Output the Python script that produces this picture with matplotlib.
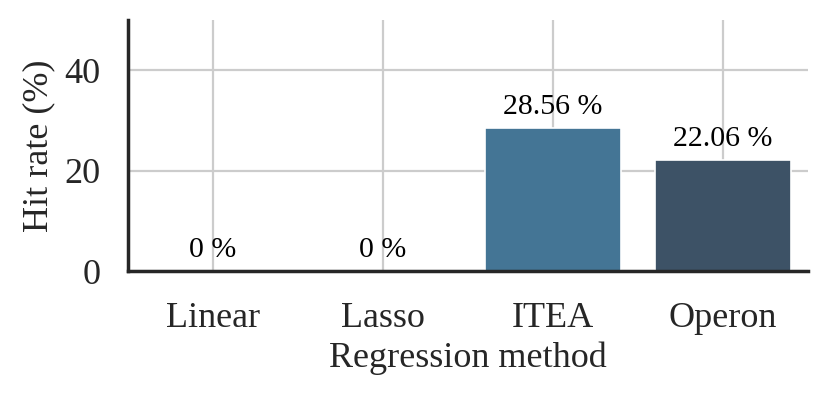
import matplotlib
matplotlib.use("Agg")
import matplotlib.pyplot as plt

methods = ["Linear", "Lasso", "ITEA", "Operon"]
hit_rates = [0.0, 0.0, 28.56, 22.06]
bar_labels = ["0 %", "0 %", "28.56 %", "22.06 %"]
colors = ["#9ab8d0", "#6f9bbb", "#447595", "#3d5266"]

plt.rcParams['font.family'] = ['Liberation Serif', 'DejaVu Serif']

fig = plt.figure(figsize=(8.3, 3.99), dpi=100)
ax = fig.add_axes([128/830, 1-271/399, (808-128)/830, (271-20)/399])

x = range(len(methods))
ax.set_axisbelow(True)
ax.grid(True, color="#cccccc", linewidth=1.6)
bars = ax.bar(x, hit_rates, width=0.8, color=colors, edgecolor="white", linewidth=1.2)
for xi, v, lab in zip(x, hit_rates, bar_labels):
    ax.text(xi, v + 1.6, lab, ha="center", va="bottom", fontsize=21.5, color="black")

ax.set_xlim(-0.5, 3.5)
ax.set_ylim(0, 50)
ax.set_yticks([0, 20, 40])
ax.set_xticks(list(x))
ax.set_xticklabels(methods)
ax.tick_params(axis="both", labelsize=26, colors="#262626", length=0)
ax.tick_params(axis="x", pad=22)
ax.tick_params(axis="y", pad=20)
ax.set_xlabel("Regression method", fontsize=26, color="#262626", labelpad=5)
ax.set_ylabel("Hit rate (%)", fontsize=26, color="#262626", labelpad=6)
for s in ["top", "right"]:
    ax.spines[s].set_visible(False)
for s in ["left", "bottom"]:
    ax.spines[s].set_color("#262626")
    ax.spines[s].set_linewidth(2.5)

fig.savefig("out.png", dpi=100)
